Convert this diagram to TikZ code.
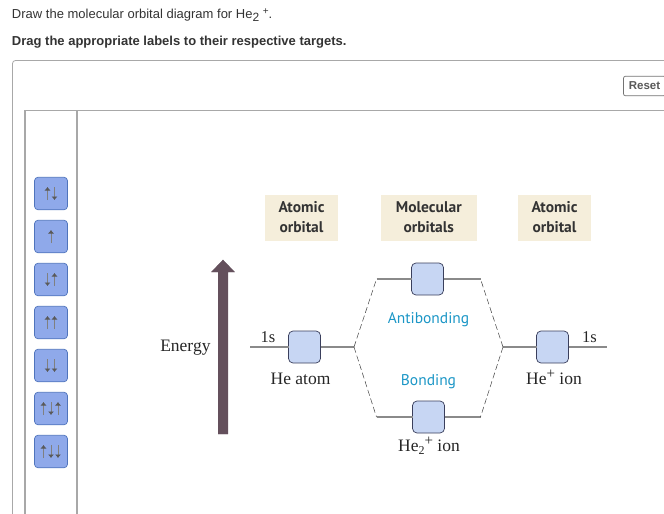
\documentclass[tikz,border=0pt]{standalone}
\usepackage{fontspec}
\usetikzlibrary{arrows.meta}
\setmainfont{Liberation Serif}
\setsansfont{Liberation Sans}
\newfontfamily\headfont{PT Sans}
\definecolor{railgray}{HTML}{A8A8A8}
\definecolor{tokenfill}{HTML}{8FA9EA}
\definecolor{tokenline}{HTML}{4F74BC}
\definecolor{boxfill}{HTML}{C7D6F3}
\definecolor{boxline}{HTML}{3A3F5C}
\definecolor{beige}{HTML}{F5EEDB}
\definecolor{teal}{HTML}{1B96C6}
\definecolor{energy}{HTML}{64505C}
\definecolor{levelgray}{HTML}{8A8A8A}
\newcommand{\spinup}[2]{\draw[spin] ([xshift=#2pt,yshift=-6.5pt]#1.center) -- ([xshift=#2pt,yshift=6.5pt]#1.center);}
\newcommand{\spindown}[2]{\draw[spin] ([xshift=#2pt,yshift=6.5pt]#1.center) -- ([xshift=#2pt,yshift=-6.5pt]#1.center);}
\newcommand{\lowtwo}[1]{\raisebox{-3pt}{\fontsize{#1}{#1}\selectfont 2}}
\newcommand{\highplus}[1]{\raisebox{6pt}{\fontsize{#1}{#1}\selectfont +}}
\begin{document}
\begin{tikzpicture}[
    x=1pt, y=-1pt,
    every node/.append style={inner sep=0pt, outer sep=0pt},
    token/.style={rectangle, rounded corners=3.5pt, draw=tokenline, fill=tokenfill, line width=0.7pt, minimum width=33pt, minimum height=32.5pt},
    spin/.style={draw=black!50, line width=0.6pt, -{Latex[length=3.5pt,width=6pt,color=black!65]}},
    orbital/.style={rectangle, rounded corners=4.5pt, draw=boxline, fill=boxfill, line width=0.7pt, minimum width=32pt, minimum height=32pt},
    heading/.style={rectangle, fill=beige, align=center, font=\headfont\fontsize{15.5}{20}\selectfont\bfseries, text=black!80, minimum height=46pt},
    level/.style={draw=levelgray, line width=1.6pt},
    link/.style={draw=black!75, line width=0.5pt, dash pattern=on 6pt off 3pt},
    caption/.style={font=\fontsize{17.5}{17.5}\selectfont, text=black!85},
    bluetext/.style={font=\headfont\fontsize{15.5}{15.5}\selectfont, text=teal}
]
    \useasboundingbox (0,0) rectangle (664,514);

    % Question
    \node[anchor=west, font=\sffamily\fontsize{13}{13}\selectfont, text=black!80] (question) at (12,15) {Draw the molecular orbital diagram for He\lowtwo{12} \raisebox{4pt}{\fontsize{10}{10}\selectfont +}.};
    \node[anchor=west, font=\sffamily\bfseries\fontsize{13}{13}\selectfont, text=black!80] (drag) at (12,42.5) {Drag the appropriate labels to their respective targets.};

    % Panel and rail
    \draw[railgray, line width=0.8pt, rounded corners=3pt] (12.5,520) -- (12.5,60.5) -- (670,60.5);
    \draw[railgray, line width=0.8pt] (25,110.5) -- (670,110.5);
    \draw[railgray, line width=1.2pt] (25,110) -- (25,514);
    \draw[railgray, line width=1.2pt] (77,110) -- (77,514);
    \node[rectangle, rounded corners=2pt, draw=black!55, line width=0.7pt, fill=white, minimum width=42pt, minimum height=19.5pt, font=\sffamily\bfseries\fontsize{11.5}{11.5}\selectfont, text=black!65] (reset) at (644.5,86) {Reset};

    % Tokens
    \node[token] (tokenA) at (51,193.5) {};
    \node[token] (tokenB) at (51,236.5) {};
    \node[token] (tokenC) at (51,279.5) {};
    \node[token] (tokenD) at (51,322.5) {};
    \node[token] (tokenE) at (51,365.5) {};
    \node[token] (tokenF) at (51,408.5) {};
    \node[token] (tokenG) at (51,451.5) {};

    \spinup{tokenA}{-3.5} \spindown{tokenA}{3.5}
    \spinup{tokenB}{0}
    \spindown{tokenC}{-3.5} \spinup{tokenC}{3.5}
    \spinup{tokenD}{-3.5} \spinup{tokenD}{3.5}
    \spindown{tokenE}{-3.5} \spindown{tokenE}{3.5}
    \spinup{tokenF}{-7.5} \spindown{tokenF}{0} \spinup{tokenF}{7}
    \spinup{tokenG}{-7.5} \spindown{tokenG}{0} \spindown{tokenG}{7}

    % Headings
    \node[heading, minimum width=73pt] (atomicL) at (301.5,217.5) {Atomic\\orbital};
    \node[heading, minimum width=96pt] (molecular) at (428.8,217.5) {Molecular\\orbitals};
    \node[heading, minimum width=73pt] (atomicR) at (554.5,217.5) {Atomic\\orbital};

    % Energy arrow
    \coordinate (energyTip) at (223,260);
    \draw[energy, fill=energy] (218.2,434) -- (218.2,272) -- (211.5,272) -- (energyTip) -- (234.5,272) -- (227.8,272) -- (227.8,434) -- cycle;
    \node[caption, anchor=east] (energyText) at (210.5,348) {Energy};

    % Orbitals
    \node[orbital] (orbL) at (304.5,347) {};
    \node[orbital] (orbR) at (552.5,347) {};
    \node[orbital] (orbAnti) at (427.5,279) {};
    \node[orbital] (orbBond) at (428.5,417) {};

    \coordinate (endL) at (250,347);
    \coordinate (endR) at (607,347);
    \coordinate (forkL) at (354,347);
    \coordinate (forkR) at (503,347);
    \coordinate (antiL) at (376.5,279);
    \coordinate (antiR) at (480.5,279);
    \coordinate (bondL) at (376.5,417);
    \coordinate (bondR) at (480.5,417);

    \draw[level] (endL) -- (orbL);
    \draw[level] (orbL) -- (forkL);
    \draw[level] (orbR) -- (forkR);
    \draw[level] (orbR) -- (endR);
    \draw[level] (antiL) -- (orbAnti);
    \draw[level] (orbAnti) -- (antiR);
    \draw[level] (bondL) -- (orbBond);
    \draw[level] (orbBond) -- (bondR);

    \draw[link] (forkL) -- (antiL);
    \draw[link] (forkL) -- (bondL);
    \draw[link] (forkR) -- (antiR);
    \draw[link] (forkR) -- (bondR);

    % Labels
    \node[caption, font=\fontsize{16.5}{16.5}\selectfont] (sL) at (268,337) {1s};
    \node[caption, font=\fontsize{16.5}{16.5}\selectfont] (sR) at (589.5,337) {1s};
    \node[caption] (heAtom) at (300.5,378.5) {He atom};
    \node[caption] (heIon) at (554,377) {He\highplus{15} ion};
    \node[caption] (moIon) at (429,446) {He\lowtwo{12}\highplus{15} ion};
    \node[bluetext] (anti) at (428.5,320) {Antibonding};
    \node[bluetext] (bond) at (428.5,382) {Bonding};
\end{tikzpicture}
\end{document}
